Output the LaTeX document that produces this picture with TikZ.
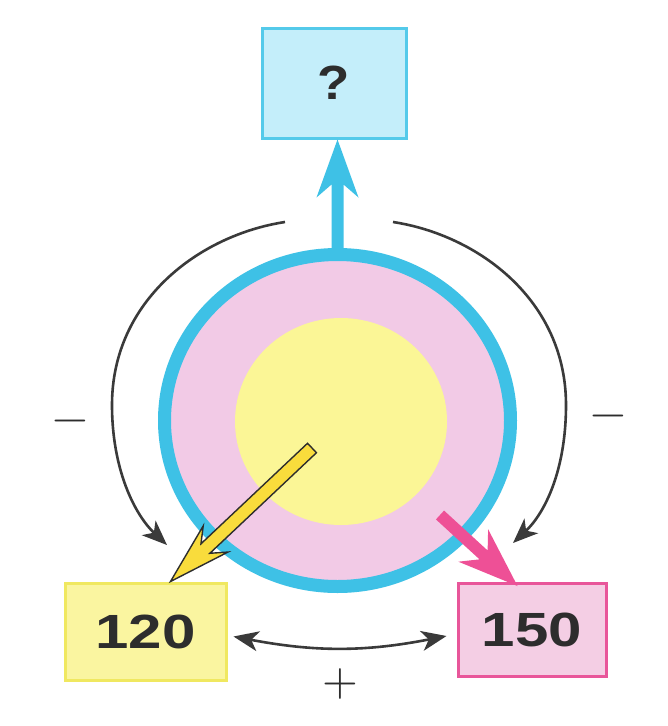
\documentclass[tikz,border=0pt]{standalone}
\usepackage{fontspec}
\setmainfont{Liberation Sans}
\newfontfamily\lmfont{lmroman10-regular}[Extension=.otf]
\usetikzlibrary{arrows.meta,calc,shapes.geometric}
\definecolor{ring}{RGB}{62,193,230}
\definecolor{cellpink}{RGB}{242,202,230}
\definecolor{nucyellow}{RGB}{251,246,150}
\definecolor{qfill}{RGB}{196,238,250}
\definecolor{qedge}{RGB}{84,202,234}
\definecolor{yfill}{RGB}{250,245,160}
\definecolor{yedge}{RGB}{240,232,96}
\definecolor{pfill}{RGB}{244,206,228}
\definecolor{pedge}{RGB}{232,86,154}
\definecolor{yarrow}{RGB}{249,220,60}
\definecolor{parrow}{RGB}{238,80,150}
\definecolor{ink}{RGB}{45,45,45}
\definecolor{arcc}{RGB}{58,58,58}
% fat arrow: #1 start, #2 tip, #3 shaft half width, #4 junction dist, #5 head length, #6 head half width, #7 style
\newcommand\fatarrow[7]{%
  \coordinate (#1-j) at ($(#2)!#4pt!(#1)$);
  \coordinate (#1-w) at ($(#2)!#5pt!(#1)$);
  \path[#7] ($(#1)!#3pt!90:(#2)$) -- ($(#1-j)!#3pt!90:(#2)$) -- ($(#1-w)!#6pt!90:(#2)$)
    -- (#2) -- ($(#1-w)!#6pt!-90:(#2)$) -- ($(#1-j)!#3pt!-90:(#2)$) -- ($(#1)!#3pt!-90:(#2)$) -- cycle;}
\begin{document}
\begin{tikzpicture}[x=1pt,y=-1pt,
  box/.style={rectangle, line width=3pt, inner sep=0pt, text=ink,
    font=\fontsize{48}{52}\selectfont\bfseries},
  arc/.style={draw=arcc, line width=2.6pt},
  tip/.style={-{Stealth[length=25pt,width=20pt,inset=7pt]}},
  sign/.style={text=ink, font=\lmfont\fontsize{46}{50}\selectfont}]
\useasboundingbox[fill=white] (0,0) rectangle (668,726);

% cell
\node[ellipse, draw=ring, line width=13pt, fill=cellpink, minimum width=346pt, minimum height=332pt, inner sep=0pt] (cell) at (337.5,420.5) {};
\node[ellipse, fill=nucyellow, minimum width=212pt, minimum height=207pt, inner sep=0pt] (nuc) at (341,421.5) {};

% boxes
\node[box, draw=qedge, fill=qfill, minimum width=144pt, minimum height=110pt] (q) at (334,83) {\scalebox{1.1}[1]{?}};
\node[box, draw=yedge, fill=yfill, minimum width=161pt, minimum height=97pt] (b120) at (145.5,631.5) {\scalebox{1.25}[1]{120}};
\node[box, draw=pedge, fill=pfill, minimum width=148pt, minimum height=93pt] (b150) at (532,630) {\scalebox{1.25}[1]{150}};

% fat arrows
\coordinate (bs) at (cell.north);
\coordinate (bt) at (bs |- q.south);
\fatarrow{bs}{bt}{6}{45}{58}{21}{fill=ring}

\coordinate (ys) at (312,448);
\coordinate (yt) at ([xshift=107pt]b120.north west);
\fatarrow{ys}{yt}{6.5}{48}{62}{18}{fill=yarrow, draw=ink, line width=1.4pt, line join=miter}

\coordinate (ps) at (440,515);
\coordinate (pt) at ([xshift=61pt,yshift=-4pt]b150.north west);
\fatarrow{ps}{pt}{6}{46}{60}{22}{fill=parrow}

% curved arrows
\coordinate (la) at (285,222);
\coordinate (lb) at (167,545);
\draw[arc, tip] (la) .. controls (200,235) and (112,300) .. (112,405) .. controls (112,470) and (135,515) .. (lb);
\coordinate (ra) at (393,222);
\coordinate (rb) at (513,543);
\draw[arc, tip] (ra) .. controls (478,235) and (566,300) .. (566,405) .. controls (566,470) and (545,513) .. (rb);
\coordinate (ba) at ([xshift=6pt,yshift=-5pt]b120.east);
\coordinate (bb) at ([xshift=-10pt,yshift=-6pt]b150.west);
\draw[arc, {Stealth[length=25pt,width=20pt,inset=7pt]}-{Stealth[length=25pt,width=20pt,inset=7pt]}] (ba) .. controls (315,652) and (365,652) .. (bb);

% signs
\node[sign] (ml) at (70,426) {−};
\node[sign] (mr) at (608,421) {−};
\node[sign] (pl) at (340,684) {+};
\end{tikzpicture}
\end{document}
